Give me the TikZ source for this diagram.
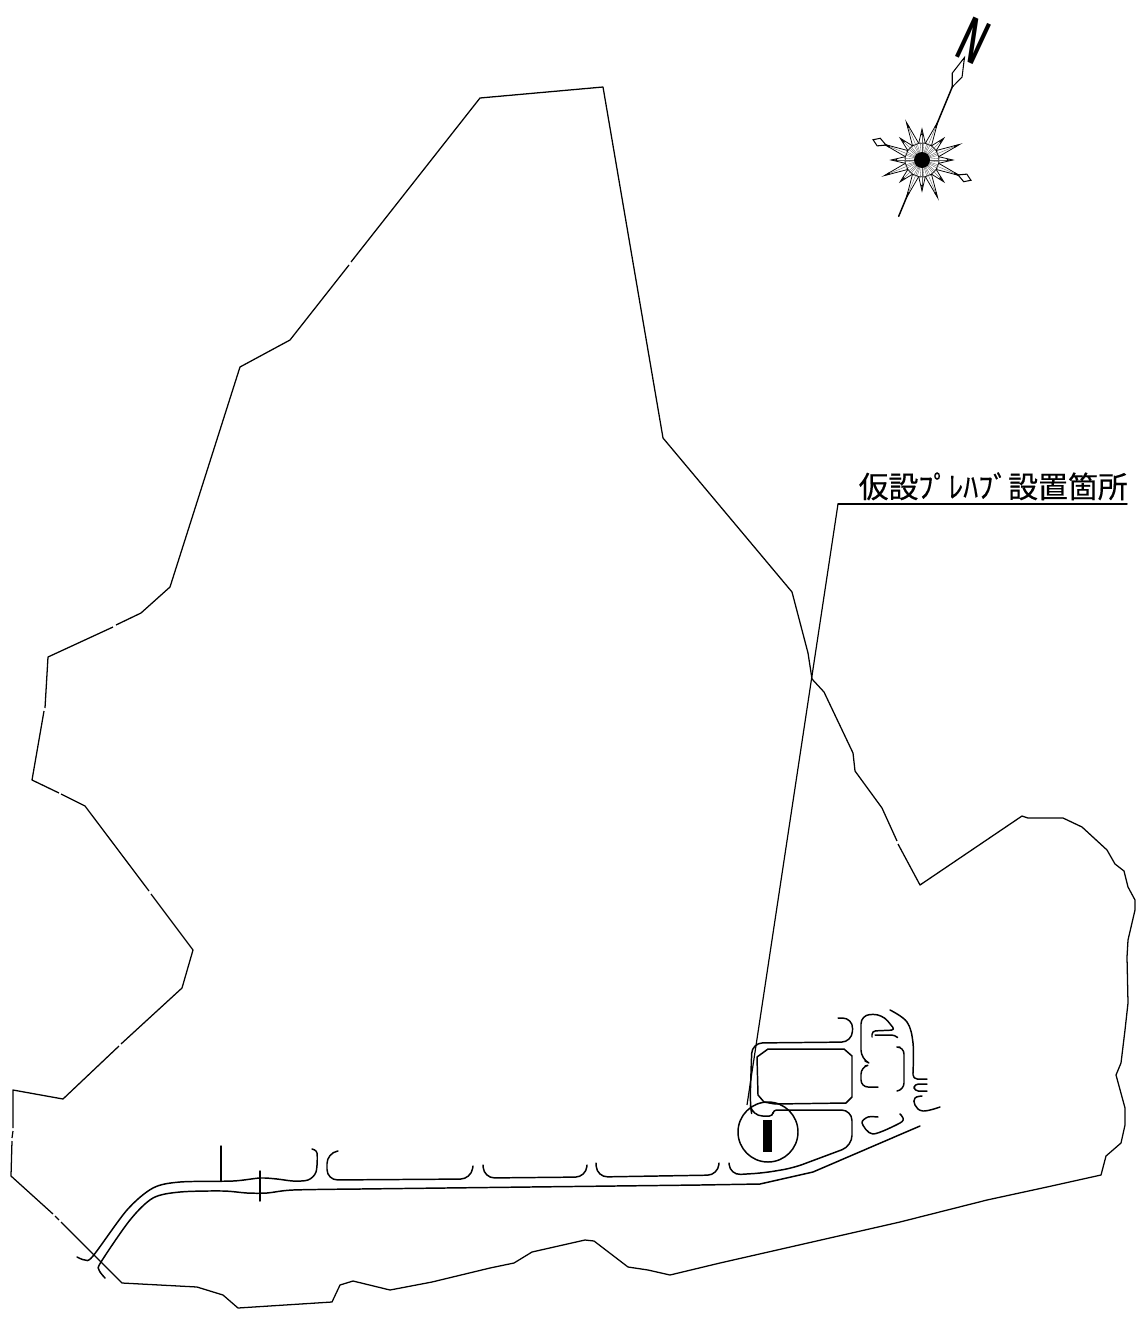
\documentclass[tikz,border=0pt]{standalone}
\usepackage{fontspec}
\newfontfamily\cjkfont[FakeBold=0.4]{Noto Sans CJK JP}
\newfontfamily\northfont{Liberation Sans}
\usetikzlibrary{positioning}
\tikzset{
  boundary/.style={black,line width=0.36pt,line join=round},
  roadline/.style={black,line width=0.42pt,line join=round,line cap=round},
  leader/.style={black,line width=0.34pt},
  spike/.style={fill=white,draw=black,line width=0.22pt},
  hatch/.style={black!65,line width=0.1pt},
  kite/.style={fill=white,draw=black,line width=0.3pt},
}
\begin{document}
\begin{tikzpicture}[x=0.01cm,y=-0.01cm]
\useasboundingbox (0,0) rectangle (1145,1327);
\draw[boundary] (13,1128) -- (13,1090) -- (63,1099) -- (119,1046) (121,1044) -- (182,988) -- (193,950) -- (151,894) (149,891) -- (85,806) -- (61,794) (59,793) -- (32,780) -- (44,711) (45,708) -- (48,657) -- (113,627) (116,625) -- (141,613) -- (170,587) -- (240,367) -- (290,340) -- (349,265) (351,262) -- (480,98) -- (603,87) -- (663,438) -- (792,592) -- (808,653) -- (812,679) -- (824,692) -- (853,753) -- (855,771) -- (882,808) -- (897,841) (898,844) -- (920,885) -- (1022,816) -- (1028,818) -- (1063,818) -- (1082,827) -- (1107,850) -- (1115,864) -- (1124,871) -- (1128,887) -- (1135,900) -- (1135,910) -- (1128,940) -- (1127,957) -- (1128,1003) -- (1125,1030) -- (1121,1063) -- (1116,1075) -- (1125,1108) -- (1125,1125) -- (1121,1143) -- (1106,1156) -- (1101,1175) -- (1047,1187) -- (987,1200) -- (900,1222) -- (720,1263) -- (670,1275) -- (648,1270) -- (628,1267) -- (594,1241) -- (585,1240) -- (532,1252) -- (514,1263) -- (490,1268) -- (432,1282) -- (390,1290) -- (353,1281) -- (340,1285) -- (332,1302) -- (238,1308) -- (223,1295) -- (197,1287) -- (122,1283) -- (61,1222) (59,1220) -- (55,1216) (53,1214) -- (11,1176) -- (12,1141) (12,1138) -- (13,1131);

\draw[roadline] plot[smooth,tension=0.5] coordinates {(77,1257) (85,1260) (93,1256) (127,1210) (153,1188) (180,1182) (233,1181) (260,1178) (277,1179) (293,1181) (308,1180) (316,1172) (317,1153) (312,1149)};
\draw[roadline] plot[smooth,tension=0.5] coordinates {(105,1278) (99,1270) (101,1262) (130,1220) (153,1198) (180,1192) (223,1191) (247,1193) (267,1193) (293,1190) (360,1189)};
\draw[roadline] (360,1189) -- (700,1185) -- (760,1184) -- (813,1172) -- (920,1126);
\draw[roadline] (221,1146) -- (221,1181);
\draw[roadline] (260,1171) -- (260,1201);

\draw[roadline,rounded corners=3pt] (338,1151) -- (327,1153) -- (327,1180) -- (471,1179) -- (473,1166);
\draw[roadline,rounded corners=3pt] (483,1165) -- (484,1178) -- (586,1177) -- (587,1165);
\draw[roadline,rounded corners=3pt] (596,1163) -- (597,1177) -- (718,1175) -- (719,1163);

\draw[roadline,rounded corners=3pt] (729,1163) -- (730,1175) -- (763,1173) -- (793,1168) -- (852,1146) -- (852,1110) [rounded corners=1pt] -- (773,1110) -- (773,1116) [rounded corners=3pt] -- (752,1116) [rounded corners=3pt] -- (750,1103) -- (752,1043) -- (852,1042) -- (853,1018) -- (838,1018);
\draw[roadline] (768,1049) -- (844,1049) -- (852,1056) -- (852,1097) -- (846,1103) -- (775,1104) -- (764,1102) -- (758,1095) -- (757,1057) -- cycle;

\draw[roadline,rounded corners=2.5pt] (865,1061) -- (861,1059) -- (861,1015) -- (882,1014) [rounded corners=1pt] -- (895,1030) -- (872,1031) -- (872,1037);
\draw[roadline,rounded corners=1pt] (875,1035) -- (895,1035) -- (897,1037);
\draw[roadline,rounded corners=2pt] (900,1047) -- (904,1047) -- (904,1090) -- (897,1091);
\draw[roadline,rounded corners=2pt] (865,1066) -- (861,1067) -- (861,1087) -- (878,1087);
\draw[roadline] plot[smooth,tension=0.6] coordinates {(890,1010) (907,1022) (913,1043) (913,1073)};
\draw[roadline,rounded corners=1.2pt] (913,1073) -- (913,1079) -- (927,1079);
\draw[roadline,rounded corners=1.2pt] (927,1084) -- (914,1084) -- (914,1091) -- (927,1091);
\draw[roadline] plot[smooth,tension=0.7] coordinates {(922,1096) (915,1098) (915,1105) (923,1111) (940,1107)};
\draw[roadline] plot[smooth,tension=0.5] coordinates {(878,1117) (868,1117) (862,1123) (873,1134) (900,1123) (903,1118) (900,1114)};

\draw[roadline] (768,1132) circle (30);
\fill[black] (763,1120) rectangle (772,1152);

\begin{scope}[shift={(922,160)}]
\foreach \k in {0,...,15}{
  \pgfmathsetmacro{\ang}{22.5*\k}
  \pgfmathsetmacro{\rtip}{isodd(\k)?41:31}
  \draw[spike] (\ang-11.25:17) -- (\ang:\rtip) -- (\ang+11.25:17) -- cycle;
}
\foreach \k in {0,...,15}{
  \pgfmathsetmacro{\ang}{22.5*\k}
  \pgfmathsetmacro{\rtip}{isodd(\k)?41:31}
  \draw[hatch] (\ang:7) -- (\ang:\rtip-4);
  \draw[hatch] (\ang-7:7) -- (\ang-6:18);
  \draw[hatch] (\ang+7:7) -- (\ang+6:18);
  \fill[black] (\ang:\rtip) -- (\ang-2:\rtip-6) -- (\ang+2:\rtip-6) -- cycle;
}
\fill[black] (0,0) circle (8);
\draw[roadline] (-67.5:38) -- (-67.5:80);
\draw[roadline] (112.5:38) -- (112.5:61);
\draw[roadline] (-157.5:38) -- (-157.5:40);
\draw[roadline] (22.5:38) -- (22.5:40);
\foreach \ang/\rin/\rmid/\dang/\rout in {-67.5/79/92/3.3/111,-157.5/39/47/5/53,22.5/39/47/5/53}{
  \draw[kite] (\ang:\rin) -- (\ang-\dang:\rmid) -- (\ang:\rout) -- (\ang+\dang:\rmid) -- cycle;
}
\end{scope}
\node[font=\northfont\bfseries\fontsize{18}{18}\selectfont,rotate=-25,xscale=0.52,inner sep=0pt] (north) at (973,41) {N};

\node[font=\cjkfont\fontsize{8.5}{10}\selectfont,anchor=south west,inner sep=0pt] (sitelabel) at (858,501) {仮設ﾌﾟﾚﾊﾌﾞ設置箇所};
\coordinate (labelcorner) at (838,504);
\coordinate (labelend) at (1127,504);
\coordinate (sitepoint) at (747,1105);
\draw[leader] (labelcorner) -- (sitepoint);
\draw[roadline] (labelend) -- (labelcorner);

\end{tikzpicture}
\end{document}
